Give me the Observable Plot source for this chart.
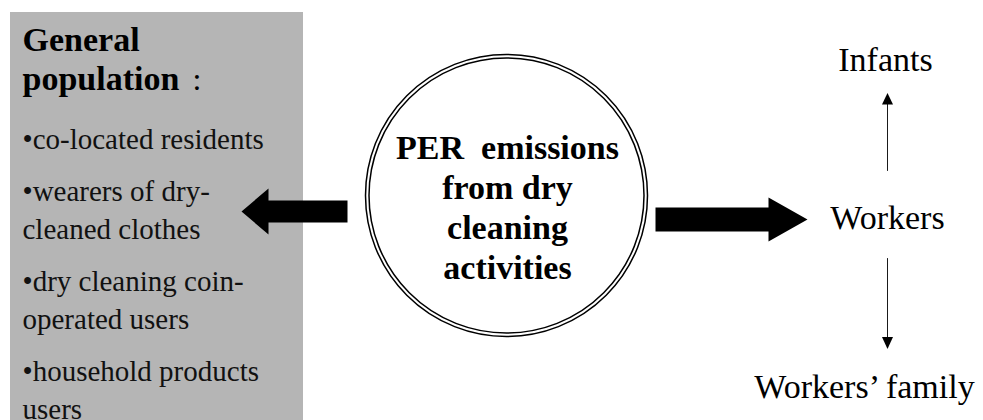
<!DOCTYPE html>
<html>
<head>
<meta charset="utf-8">
<script src="https://cdn.jsdelivr.net/npm/d3@7"></script>
<script src="https://cdn.jsdelivr.net/npm/@observablehq/plot@0.6"></script>
<style>
  html, body { margin: 0; padding: 0; background: #fff; }
  #chart { position: relative; }
</style>
</head>
<body>
<div id="chart"></div>
<script>
// ---------- content ----------
const sourceLabel = ["PER  emissions", "from dry", "cleaning", "activities"];
const generalTitle = ["General", "population"];
const generalColon = [":"];
const generalGroups = [
  ["•co-located residents"],
  ["•wearers of dry-", "cleaned clothes"],
  ["•dry cleaning coin-", "operated users"],
  ["•household products", "users"]
];
const workerNodes = ["Infants", "Workers", "Workers’ family"];

// ---------- layout (diagram geometry, pixel space) ----------
const W = 983, H = 420;
const SERIF = "Liberation Serif";
const boxGeom = {x1: 10, x2: 303, y1: 12, y2: 420};
const circleGeom = {cx: 506, cy: 195};
const circleRadii = [141, 137.5];
const sourceLines = {x: 507, y0: 158, step: 40};
const titleLines = {x: 22, y0: 50, step: 39, colonX: 192};
const groupLines = {x: 22, y0: 148, lineStep: 38, groupStep: 52};
const workerPos = [
  {x: 885, y: 70},
  {x: 887, y: 228},
  {x: 864, y: 397}
];
const leftArrow = [[347,200],[268,200],[268,188],[241,211],[268,234],[268,222],[347,222]];
const rightArrow = [[655,207],[768,207],[768,197],[807,219],[768,241],[768,231],[655,231]];
const thinArrows = [
  {shaft: [[887,170],[887,103]], head: [[881.5,104],[887,92.5],[892.5,104]]},
  {shaft: [[887,258],[887,337]], head: [[881.5,336.5],[887,348.5],[892.5,336.5]]}
];

// ---------- derived tables ----------
const sourceRows = sourceLabel.map((t, i) => ({t, x: sourceLines.x, y: sourceLines.y0 + i * sourceLines.step}));
const titleRows = generalTitle.map((t, i) => ({t, x: titleLines.x, y: titleLines.y0 + i * titleLines.step}));
const colonRows = generalColon.map(t => ({t, x: titleLines.colonX, y: titleLines.y0 + titleLines.step}));
const groupRows = [];
{
  let y = groupLines.y0;
  generalGroups.forEach((g, gi) => {
    g.forEach((t, li) => {
      if (gi > 0 || li > 0) y += li === 0 ? groupLines.groupStep : groupLines.lineStep;
      groupRows.push({t, x: groupLines.x, y});
    });
  });
}
const workerRows = workerNodes.map((t, i) => ({t, ...workerPos[i]}));
const toPts = (arr, id) => arr.map(([x, y]) => ({x, y, id}));

const chart = Plot.plot({
  width: W,
  height: H,
  margin: 0,
  x: {domain: [0, W], range: [0, W], axis: null},
  y: {domain: [0, H], range: [0, H], axis: null},
  marks: [
    // grey box
    Plot.rect([boxGeom], {x1: "x1", x2: "x2", y1: "y1", y2: "y2", fill: "#b5b5b5"}),
    // double circle
    ...circleRadii.map(r => Plot.dot([circleGeom], {x: "cx", y: "cy", r, stroke: "#000", strokeWidth: 1.5, fill: "none"})),
    // block arrows
    Plot.line(toPts(leftArrow, "l"), {x: "x", y: "y", fill: "#000", stroke: "none", curve: "linear-closed"}),
    Plot.line(toPts(rightArrow, "r"), {x: "x", y: "y", fill: "#000", stroke: "none", curve: "linear-closed"}),
    // thin arrows
    ...thinArrows.map((a, i) => Plot.line(toPts(a.shaft, "s" + i), {x: "x", y: "y", stroke: "#000", strokeWidth: 0.9})),
    ...thinArrows.map((a, i) => Plot.line(toPts(a.head, "h" + i), {x: "x", y: "y", fill: "#000", stroke: "none", curve: "linear-closed"})),
    // texts
    Plot.text(titleRows, {x: "x", y: "y", text: "t", textAnchor: "start", lineAnchor: "bottom", fontSize: 34, fontWeight: "bold", fontFamily: SERIF, fill: "#000"}),
    Plot.text(colonRows, {x: "x", y: "y", text: "t", textAnchor: "start", lineAnchor: "bottom", fontSize: 32, fontFamily: SERIF, fill: "#000"}),
    Plot.text(groupRows, {x: "x", y: "y", text: "t", textAnchor: "start", lineAnchor: "bottom", fontSize: 29, fontFamily: SERIF, fill: "#111"}),
    Plot.text(sourceRows, {x: "x", y: "y", text: "t", textAnchor: "middle", lineAnchor: "bottom", fontSize: 34, fontWeight: "bold", fontFamily: SERIF, fill: "#000"}),
    Plot.text(workerRows, {x: "x", y: "y", text: "t", textAnchor: "middle", lineAnchor: "bottom", fontSize: 34, fontFamily: SERIF, fill: "#000"})
  ]
});
d3.select(chart).selectAll("text").style("white-space", "pre");
document.getElementById("chart").appendChild(chart);
</script>
</body>
</html>
